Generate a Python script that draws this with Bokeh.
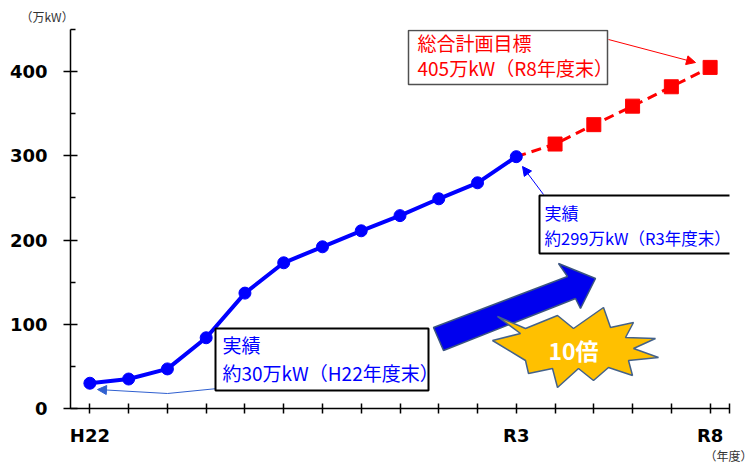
from bokeh.plotting import figure
from bokeh.models import (Label, Arrow, NormalHead, PolyAnnotation, FixedTicker,
                          CustomJSTickFormatter, Range1d, Title)
from bokeh.embed import file_html
from bokeh.resources import INLINE

# ---------------- data ----------------
years = ["H22", "H23", "H24", "H25", "H26", "H27", "H28", "H29", "H30",
         "R1", "R2", "R3", "R4", "R5", "R6", "R7", "R8"]
actual_years = years[:12]
actual_values = [30, 35, 47, 84, 137, 173, 192, 211, 229, 249, 268, 299]
plan_years = years[12:]
plan_values = [314, 337, 359, 382, 405]
shown_labels = ["H22", "R3", "R8"]
y_ticks = [0, 100, 200, 300, 400]
y_minor_ticks = [50, 150, 250, 350, 450]

# ---------------- layout ----------------
W, H = 753, 462
FL, FR, FT, FB = 70, 729, 29, 408          # frame edges in page pixels
ML, MR, MT, MB = FL, W - FR, FT, H - FB
FW = FR - FL
FH = FB - FT
X0, X1 = -0.5, 16.5
Y0, Y1 = 0, 450


def X(px):  # page pixel -> data x
    return X0 + (px - FL) / FW * (X1 - X0)


def Y(py):  # page pixel -> data y
    return Y0 + (FB - py) / FH * (Y1 - Y0)


JP = "Noto Sans CJK JP"
NUM = "DejaVu Sans"
BLUE = "#0000ff"
RED = "#ff0000"

p = figure(width=W, height=H, x_range=Range1d(X0, X1), y_range=Range1d(Y0, Y1),
           output_backend="svg", toolbar_location=None,
           min_border_left=ML, min_border_right=MR, min_border_top=MT, min_border_bottom=MB,
           background_fill_color="white", border_fill_color="white")
p.outline_line_color = None
p.xgrid.visible = False
p.ygrid.visible = False

# axes
xa = p.xaxis[0]
xa.ticker = FixedTicker(ticks=list(range(len(years))) + [X1])
xa.formatter = CustomJSTickFormatter(args=dict(years=years, shown=shown_labels), code="""
const i = Math.round(tick);
if (Math.abs(tick - i) > 1e-6 || i < 0 || i >= years.length) return '';
const s = years[i];
return shown.includes(s) ? s : '';
""")
xa.axis_line_width = 1.5
xa.axis_line_color = "black"
xa.major_tick_in = 5
xa.major_tick_out = 5
xa.major_tick_line_width = 1.5
xa.major_tick_line_color = "black"
xa.minor_tick_line_color = None
xa.major_label_text_font = NUM
xa.major_label_text_font_style = "bold"
xa.major_label_text_font_size = "18px"
xa.major_label_text_color = "black"
xa.major_label_standoff = 11

ya = p.yaxis[0]
ya.ticker = FixedTicker(ticks=y_ticks, minor_ticks=y_minor_ticks)
ya.axis_line_width = 1.5
ya.axis_line_color = "black"
ya.major_tick_in = 7
ya.major_tick_out = 7
ya.major_tick_line_width = 1.5
ya.major_tick_line_color = "black"
ya.minor_tick_in = 5
ya.minor_tick_out = 0
ya.minor_tick_line_width = 1.5
ya.minor_tick_line_color = "black"
ya.major_label_text_font = NUM
ya.major_label_text_font_style = "bold"
ya.major_label_text_font_size = "18px"
ya.major_label_text_color = "black"
ya.major_label_standoff = 16

# unit labels (outside the frame)
p.add_layout(Title(text="（万kW）", align="left", offset=20 - FL, standoff=9,
                   text_font=JP, text_font_size="12px", text_font_style="normal",
                   text_color="#333333"), "above")
p.add_layout(Title(text="（年度）", align="right", offset=-(W - 1 - FR), standoff=-8,
                   text_font=JP, text_font_size="12px", text_font_style="normal",
                   text_color="#333333"), "below")

# ---------------- series ----------------
x_actual = [years.index(y) for y in actual_years]
x_plan = [years.index(y) for y in plan_years]

p.line([x_actual[-1]] + x_plan, [actual_values[-1]] + plan_values,
       line_color=RED, line_width=3, line_dash="10 6")
p.scatter(x_plan, plan_values, marker="square", size=14, fill_color=RED, line_color=RED)
p.line(x_actual, actual_values, line_color=BLUE, line_width=4)
p.scatter(x_actual, actual_values, marker="circle", size=12, fill_color=BLUE, line_color=BLUE)

# ---------------- decorations ----------------
arrow_px = [(443, 350), (433, 327), (567, 276), (558, 263), (595, 278), (580, 308), (575, 298)]
p.patch([X(a) for a, b in arrow_px], [Y(b) for a, b in arrow_px],
        fill_color="#0000ee", line_color="#3b5580", line_width=1.5)

outer = [(497, 316), (557, 315), (603, 307), (633, 322), (655, 338), (658, 357),
         (632, 375), (593, 380), (557, 387), (528, 373), (492, 340)]
inner = [(525, 328), (573, 328), (610, 327), (625, 337), (633, 348), (628, 360),
         (608, 367), (578, 368), (552, 368), (525, 360), (520, 333)]
star = []
for o, i in zip(outer, inner):
    star.append(o)
    star.append(i)
p.patch([X(a) for a, b in star], [Y(b) for a, b in star],
        fill_color="#ffc000", line_color="#44628a", line_width=1.5)
p.add_layout(Label(x=X(573), y=Y(349), text="10倍", text_align="center", text_baseline="middle",
                   text_font=JP, text_font_style="bold", text_font_size="23px", text_color="white"))


def box(x0, y0, x1, y1, color="black", width=2):
    p.add_layout(PolyAnnotation(xs=[X(x0), X(x1), X(x1), X(x0)], ys=[Y(y0), Y(y0), Y(y1), Y(y1)],
                                fill_color="white", fill_alpha=1, line_color=color,
                                line_alpha=1, line_width=width))


def text(px, py, t, color, size="19px", align="left", font=JP):
    p.add_layout(Label(x=X(px), y=Y(py), text=t, text_align=align, text_baseline="middle",
                       text_font=font, text_font_size=size, text_color=color))


# box 1 (H22)
p.line([X(217), X(167)], [Y(388), Y(393)], line_color="#3060d0", line_width=1)
p.add_layout(Arrow(x_start=X(167), y_start=Y(393), x_end=X(97), y_end=Y(389),
                   line_color="#3060d0", line_width=1,
                   end=NormalHead(size=9, fill_color="#3060d0", line_color="#3060d0")))
box(215, 328, 428, 390)
text(222, 344, "実績", BLUE)
text(222, 372, "約30万kW（H22年度末）", BLUE)

# box 2 (R3) - runs off the right edge as in the reference
p.add_layout(Arrow(x_start=X(543), y_start=Y(194), x_end=X(522), y_end=Y(166),
                   line_color=BLUE, line_width=1,
                   end=NormalHead(size=9, fill_color=BLUE, line_color=BLUE)))
box(539, 195, 760, 253)
text(544, 212, "実績", BLUE, size="17px")
text(544, 237, "約299万kW（R3年度末）", BLUE, size="16.5px")

# box 3 (target)
p.add_layout(Arrow(x_start=X(608), y_start=Y(39), x_end=X(695), y_end=Y(62),
                   line_color=RED, line_width=1,
                   end=NormalHead(size=9, fill_color=RED, line_color=RED)))
box(408, 30, 607, 84, color="#505050", width=1.5)
text(417, 42, "総合計画目標", RED)
text(417, 67, "405万kW（R8年度末）", RED)

open("out.html", "w").write(file_html(p, INLINE))
